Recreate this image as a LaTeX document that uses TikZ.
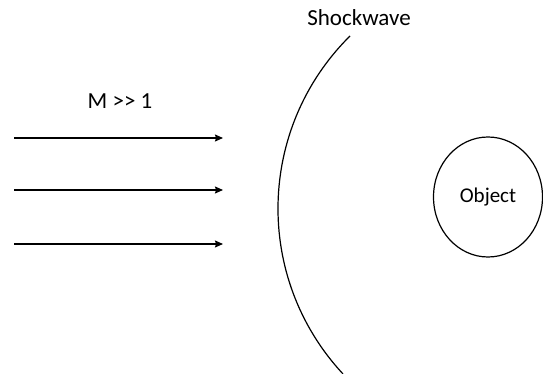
\documentclass[tikz,border=0pt]{standalone}
\usepackage{fontspec}
\setmainfont{Carlito}
\usetikzlibrary{arrows.meta,positioning,shapes.geometric}

\begin{document}
\begin{tikzpicture}[x=1pt,y=-1pt,line width=1.2pt,
  flow/.style={-{Stealth[length=8pt,width=7pt,inset=1pt]}},
  lab/.style={font=\fontsize{23}{27}\selectfont}]
  \useasboundingbox (0,0) rectangle (543,374);

  % Incoming flow
  \foreach \y/\n in {138/1, 190/2, 244/3} {
    \coordinate (in\n) at (14,\y);
    \coordinate (out\n) at (223,\y);
    \draw[flow] (in\n) -- (out\n);
  }
  \node[lab] (mach) at (120,101) {M >{}> 1};

  % Shock front
  \draw (350,36) arc[start angle=225.3, end angle=137.1, radius=242.8];
  \node[lab] (shock) at (359,18) {Shockwave};

  % Body
  \node[draw,ellipse,minimum width=109pt,minimum height=120pt,inner sep=0pt,
    font=\fontsize{21}{25}\selectfont] (object) at (488,197) {Object};
\end{tikzpicture}
\end{document}
